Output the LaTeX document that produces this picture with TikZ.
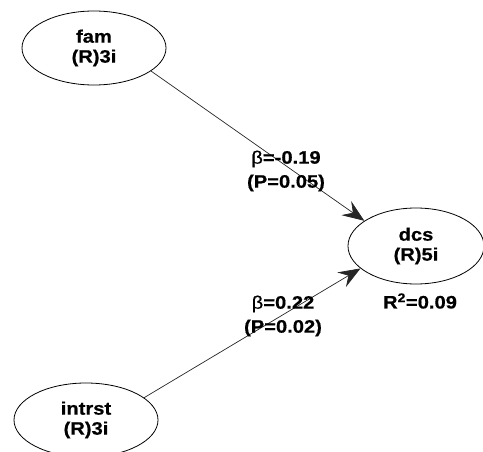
\documentclass[tikz,border=0pt]{standalone}
\usepackage{fontspec}
\setmainfont{Liberation Sans}[FakeStretch=1.12,FakeBold=0.6]
\usetikzlibrary{shapes.geometric,arrows.meta}
\newcommand{\coefbeta}{{\mdseries β}}
\begin{document}
\begin{tikzpicture}[x=1pt,y=-1pt,
  latent/.style={draw=black,line width=0.8pt,ellipse,inner sep=0pt,
    minimum width=144pt,minimum height=74pt,align=center,
    font=\fontsize{18}{20}\selectfont\bfseries},
  coef/.style={align=center,inner sep=0pt,
    font=\fontsize{18}{24}\selectfont\bfseries},
  path/.style={draw=black!85,line width=0.7pt,
    -{Stealth[length=22pt,width=17pt,inset=8pt]}}]
\useasboundingbox (0,0) rectangle (483,452);
% latent variables
\node[latent] (fam) at (94,48) {fam\\(R)3i};
\node[latent,minimum width=136pt,minimum height=76pt] (dcs) at (416,246) {dcs\\(R)5i};
\node[latent] (intrst) at (86,420) {intrst\\(R)3i};
% structural paths
\draw[path] (fam.-22) -- (dcs.154);
\draw[path] (intrst.21) -- (dcs.-158);
% path coefficients and explained variance
\node[coef] (b1) at (286,171) {\coefbeta=-0.19\\(P=0.05)};
\node[coef] (b2) at (283,316) {\coefbeta=0.22\\(P=0.02)};
\node[coef] (r2) at (420,301) {R\textsuperscript{2}=0.09};
\end{tikzpicture}
\end{document}
